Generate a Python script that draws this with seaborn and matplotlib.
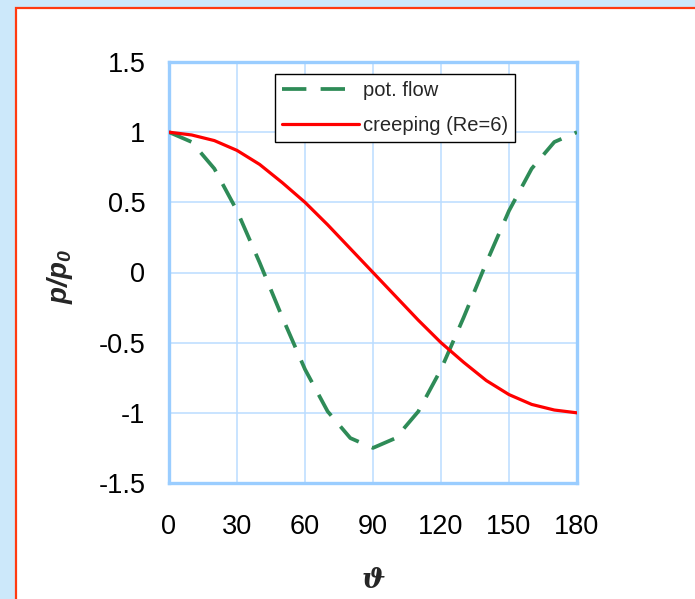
import matplotlib
matplotlib.use("Agg")
import matplotlib.pyplot as plt
from matplotlib.patches import Rectangle
import numpy as np
import pandas as pd
import seaborn as sns

# Surface pressure around a sphere, sampled every 10 degrees
theta = [0, 10, 20, 30, 40, 50, 60, 70, 80, 90,
         100, 110, 120, 130, 140, 150, 160, 170, 180]
pot_flow = [1.00, 0.93, 0.74, 0.44, 0.07, -0.32, -0.69, -0.99, -1.18, -1.25,
            -1.18, -0.99, -0.69, -0.32, 0.07, 0.44, 0.74, 0.93, 1.00]
creeping = [1.00, 0.98, 0.94, 0.87, 0.77, 0.64, 0.50, 0.34, 0.17, 0.00,
            -0.17, -0.34, -0.50, -0.64, -0.77, -0.87, -0.94, -0.98, -1.00]

series_names = ["pot. flow", "creeping (Re=6)"]
x_ticks = [0, 30, 60, 90, 120, 150, 180]
x_tick_labels = ["0", "30", "60", "90", "120", "150", "180"]
y_ticks = [-1.5, -1.0, -0.5, 0.0, 0.5, 1.0, 1.5]
y_tick_labels = ["-1.5", "-1", "-0.5", "0", "0.5", "1", "1.5"]

sns.set_style("white")
plt.rcParams["font.family"] = ["Liberation Sans", "DejaVu Sans"]
plt.rcParams["mathtext.fontset"] = "custom"
plt.rcParams["mathtext.it"] = "Liberation Sans:italic:bold"
plt.rcParams["mathtext.rm"] = "Liberation Sans:italic:bold"

W, H = 695, 599
fig = plt.figure(figsize=(W / 100, H / 100), dpi=100, facecolor="#CCE8FA")

# white slide panel with orange-red frame
panel = Rectangle((16 / W, -0.05), 1.2, 1 - 8 / H + 0.05,
                  transform=fig.transFigure, facecolor="white",
                  edgecolor="#FF3A10", linewidth=1.6, zorder=-10)
fig.patches.append(panel)

ax = fig.add_axes([169 / W, 1 - 483 / H, (577 - 169) / W, (483 - 62) / H])
ax.set_zorder(5)
ax.set_facecolor("white")

df = pd.DataFrame({"theta": theta, "pot": pot_flow, "creep": creeping})

sns.lineplot(data=df, x="theta", y="pot", ax=ax, color="#2E8B57",
             linewidth=2.7, linestyle=(0, (6.5, 3.8)), label=series_names[0],
             zorder=3)
sns.lineplot(data=df, x="theta", y="creep", ax=ax, color="#FF0000",
             linewidth=2.3, label=series_names[1], zorder=4)

ax.set_xlim(0, 180)
ax.set_ylim(-1.5, 1.5)
ax.set_xticks(x_ticks)
ax.set_xticklabels(x_tick_labels)
ax.set_yticks(y_ticks)
ax.set_yticklabels(y_tick_labels)

ax.grid(True, color="#BBDDFF", linewidth=1.1)
for side in ["left", "right", "top", "bottom"]:
    ax.spines[side].set_visible(True)
    ax.spines[side].set_color("#9ACDFF")
    ax.spines[side].set_linewidth(2.4)

ax.tick_params(axis="both", direction="out", length=7, width=1.3,
               color="#B8DCFF", labelsize=19.5, labelcolor="black")
ax.tick_params(axis="x", pad=15)
ax.tick_params(axis="y", pad=10)

ax.set_xlabel("\u03d1", fontsize=20, fontweight="bold", fontstyle="italic",
              family=["DejaVu Serif"], va="center")
ax.xaxis.set_label_coords(0.5, (483 - 580) / 421)
ax.set_ylabel(r"$p/p_0$", fontsize=20, va="center", ha="center")
ax.yaxis.set_label_coords((60 - 169) / 408, 0.49)

leg = ax.legend(loc="upper left", bbox_to_anchor=(0.26, 0.972),
                borderaxespad=0, fontsize=14.5, frameon=True, fancybox=False,
                framealpha=1, edgecolor="black", handlelength=3.8,
                handletextpad=0.2, labelspacing=0.8, borderpad=0.35)
leg.get_frame().set_linewidth(1.0)

fig.savefig("out.png", dpi=100, facecolor=fig.get_facecolor())
